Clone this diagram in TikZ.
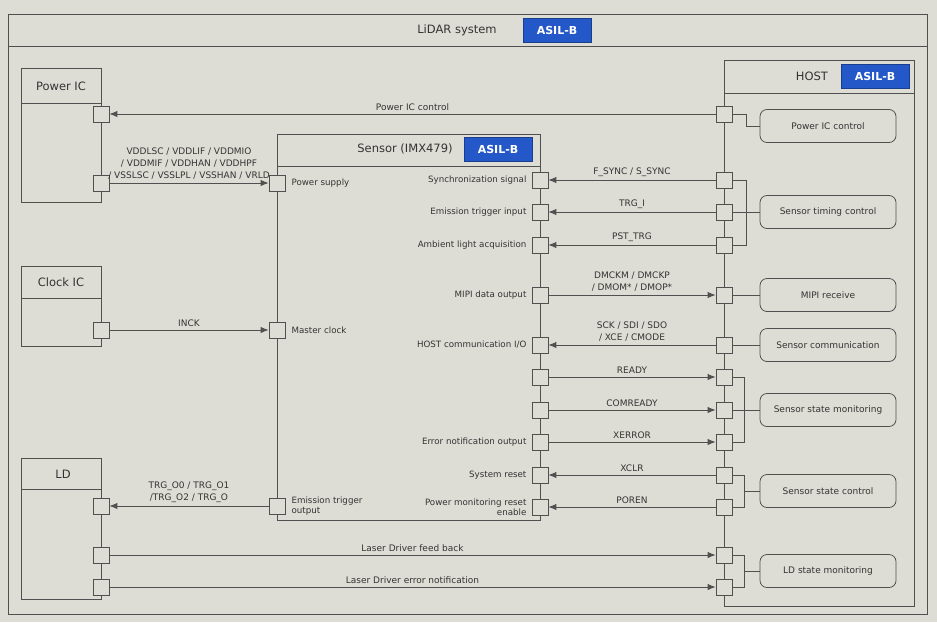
\documentclass[tikz,border=0pt]{standalone}
\usepackage{fontspec}
\setmainfont{DejaVu Sans}
\usetikzlibrary{arrows.meta, positioning, calc}
\definecolor{Screen}{HTML}{DDDDD6}
\definecolor{LineInk}{HTML}{505050}
\definecolor{TextInk}{HTML}{333333}
\definecolor{AsilBlue}{HTML}{2458C8}

\begin{document}
\begin{tikzpicture}[
    x=1pt,
    y=-1pt,
    >=Latex,
    every node/.style={text=TextInk},
    frame/.style={draw=LineInk, line width=0.8pt},
    blockbox/.style={draw=LineInk, line width=0.8pt, anchor=north west, inner sep=0pt},
    headtext/.style={font=\fontsize{11.5}{13}\selectfont},
    asil/.style={fill=AsilBlue, draw=AsilBlue!70!black, line width=0.5pt, text=white, font=\fontsize{11}{13}\selectfont\bfseries, minimum width=68pt, minimum height=24pt, inner sep=0pt},
    port/.style={draw=LineInk, fill=Screen, line width=0.8pt, minimum size=16pt, inner sep=0pt},
    portlabel/.style={font=\fontsize{8.7}{10}\selectfont, inner sep=1pt},
    funcbox/.style={draw=LineInk, fill=Screen, line width=0.8pt, rounded corners=7pt, minimum width=136pt, minimum height=33pt, font=\fontsize{9}{10}\selectfont},
    sig/.style={->, >={Latex[length=8pt,width=6.5pt]}, draw=LineInk, line width=0.9pt},
    wire/.style={draw=LineInk, line width=0.8pt},
    siglabel/.style={font=\fontsize{9}{12}\selectfont, align=center, above=2pt, inner sep=1pt}
]

\fill[Screen] (0,0) rectangle (937,622);

% system frame
\node[blockbox, minimum width=919pt, minimum height=600pt] (lidar) at (8,14) {};
\draw[frame] (lidar.west |- 0,46) -- (lidar.east |- 0,46);
\node[headtext] (lidarTitle) at (457,30) {LiDAR system};
\node[asil] (lidarAsil) at (557,30) {ASIL-B};

% left side ICs
\node[blockbox, minimum width=80pt, minimum height=134pt] (powerIC) at (21,68) {};
\draw[frame] (powerIC.west |- 0,103) -- (powerIC.east |- 0,103);
\node[headtext] (powerICTitle) at (61,86) {Power IC};
\node[port] (picCtrl) at (101,114) {};
\node[port] (picPwr) at (101,183) {};

\node[blockbox, minimum width=80pt, minimum height=80pt] (clockIC) at (21,266) {};
\draw[frame] (clockIC.west |- 0,298) -- (clockIC.east |- 0,298);
\node[headtext] (clockICTitle) at (61,282) {Clock IC};
\node[port] (clkOut) at (101,330) {};

\node[blockbox, minimum width=80pt, minimum height=141pt] (ld) at (21,458) {};
\draw[frame] (ld.west |- 0,489) -- (ld.east |- 0,489);
\node[headtext] (ldTitle) at (63,474) {LD};
\node[port] (ldTrg) at (101,506) {};
\node[port] (ldFb) at (101,555) {};
\node[port] (ldErr) at (101,587) {};

% sensor
\node[blockbox, minimum width=263pt, minimum height=386pt] (sensor) at (277,134) {};
\draw[frame] (sensor.west |- 0,166) -- (sensor.east |- 0,166);
\node[headtext] (sensorTitle) at (405,149) {Sensor (IMX479)};
\node[asil] (sensorAsil) at (498,149) {ASIL-B};

\node[port] (sPwr) at (277,183) {};
\node[port] (sClk) at (277,330) {};
\node[port] (sEto) at (277,506) {};
\node[portlabel, right=5pt of sPwr] {Power supply};
\node[portlabel, right=5pt of sClk] {Master clock};
\node[portlabel, right=5pt of sEto, align=left] {Emission trigger\\output};

\node[port] (sSync) at (540,180) {};
\node[port] (sEti) at (540,212) {};
\node[port] (sAmb) at (540,245) {};
\node[port] (sMipi) at (540,295) {};
\node[port] (sHio) at (540,345) {};
\node[port] (sRdy) at (540,377) {};
\node[port] (sCrdy) at (540,410) {};
\node[port] (sErr) at (540,442) {};
\node[port] (sRst) at (540,475) {};
\node[port] (sPmr) at (540,507) {};
\node[portlabel, left=4pt of sSync] {Synchronization signal};
\node[portlabel, left=4pt of sEti] {Emission trigger input};
\node[portlabel, left=4pt of sAmb] {Ambient light acquisition};
\node[portlabel, left=4pt of sMipi] {MIPI data output};
\node[portlabel, left=4pt of sHio] {HOST communication I/O};
\node[portlabel, left=4pt of sErr] {Error notification output};
\node[portlabel, left=4pt of sRst] {System reset};
\node[portlabel, left=4pt of sPmr, align=right] {Power monitoring reset\\enable};

% host
\node[blockbox, minimum width=190pt, minimum height=546pt] (host) at (724,60) {};
\draw[frame] (host.west |- 0,93) -- (host.east |- 0,93);
\node[headtext] (hostTitle) at (812,76) {HOST};
\node[asil] (hostAsil) at (875,76) {ASIL-B};

\node[port] (hPic) at (724,114) {};
\node[port] (hSync) at (724,180) {};
\node[port] (hTrg) at (724,212) {};
\node[port] (hPst) at (724,245) {};
\node[port] (hMipi) at (724,295) {};
\node[port] (hComm) at (724,345) {};
\node[port] (hRdy) at (724,377) {};
\node[port] (hCrdy) at (724,410) {};
\node[port] (hXerr) at (724,442) {};
\node[port] (hXclr) at (724,475) {};
\node[port] (hPoren) at (724,507) {};
\node[port] (hLdFb) at (724,555) {};
\node[port] (hLdErr) at (724,587) {};

\node[funcbox] (fPic) at (828,126) {Power IC control};
\node[funcbox] (fTiming) at (828,212) {Sensor timing control};
\node[funcbox] (fMipi) at (828,295) {MIPI receive};
\node[funcbox] (fComm) at (828,345) {Sensor communication};
\node[funcbox] (fMonitor) at (828,410) {Sensor state monitoring};
\node[funcbox] (fControl) at (828,491) {Sensor state control};
\node[funcbox] (fLdMon) at (828,571) {LD state monitoring};

\draw[wire] (hPic.east) -- ++(14,0) |- (fPic.west);
\draw[wire] (hSync.east) -- ++(14,0) |- (hPst.east);
\draw[wire] (hTrg.east) -- (fTiming.west);
\draw[wire] (hMipi.east) -- (fMipi.west);
\draw[wire] (hComm.east) -- (fComm.west);
\draw[wire] (hRdy.east) -- ++(12,0) |- (hXerr.east);
\draw[wire] (hCrdy.east) -- (fMonitor.west);
\draw[wire] (hXclr.east) -- ++(12,0) |- (hPoren.east);
\draw[wire] (fControl.west) -- ++(-16,0);
\draw[wire] (hLdFb.east) -- ++(12,0) |- (hLdErr.east);
\draw[wire] (fLdMon.west) -- ++(-16,0);

% signals
\draw[sig] (hPic) -- node[siglabel] {Power IC control} (picCtrl);
\draw[sig] (picPwr) -- node[siglabel] {VDDLSC / VDDLIF / VDDMIO\\/ VDDMIF / VDDHAN / VDDHPF\\/ VSSLSC / VSSLPL / VSSHAN / VRLD} (sPwr);
\draw[sig] (clkOut) -- node[siglabel] {INCK} (sClk);
\draw[sig] (sEto) -- node[siglabel] {TRG\_O0 / TRG\_O1\\/TRG\_O2 / TRG\_O} (ldTrg);
\draw[sig] (ldFb) -- node[siglabel] {Laser Driver feed back} (hLdFb);
\draw[sig] (ldErr) -- node[siglabel] {Laser Driver error notification} (hLdErr);

\draw[sig] (hSync) -- node[siglabel] {F\_SYNC / S\_SYNC} (sSync);
\draw[sig] (hTrg) -- node[siglabel] {TRG\_I} (sEti);
\draw[sig] (hPst) -- node[siglabel] {PST\_TRG} (sAmb);
\draw[sig] (sMipi) -- node[siglabel] {DMCKM / DMCKP\\/ DMOM* / DMOP*} (hMipi);
\draw[sig] (hComm) -- node[siglabel] {SCK / SDI / SDO\\/ XCE / CMODE} (sHio);
\draw[sig] (sRdy) -- node[siglabel] {READY} (hRdy);
\draw[sig] (sCrdy) -- node[siglabel] {COMREADY} (hCrdy);
\draw[sig] (sErr) -- node[siglabel] {XERROR} (hXerr);
\draw[sig] (hXclr) -- node[siglabel] {XCLR} (sRst);
\draw[sig] (hPoren) -- node[siglabel] {POREN} (sPmr);

\end{tikzpicture}
\end{document}
